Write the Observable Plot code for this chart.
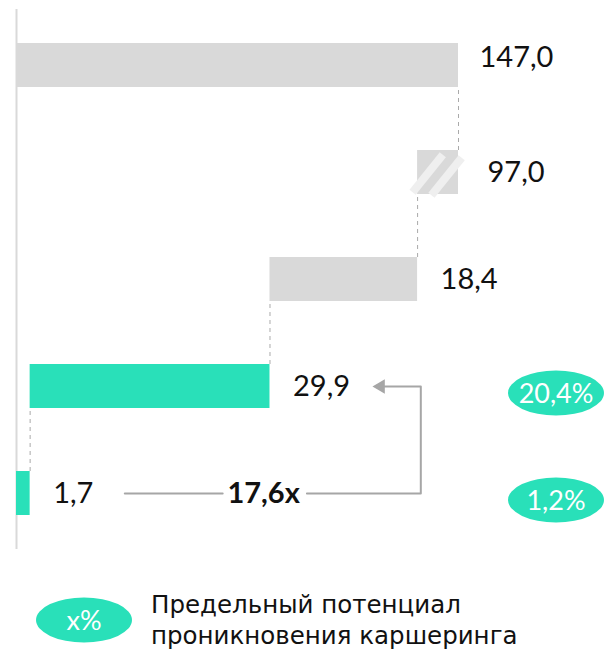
<!DOCTYPE html>
<html><head><meta charset="utf-8">
<script src="https://cdn.jsdelivr.net/npm/d3@7"></script>
<script src="https://cdn.jsdelivr.net/npm/@observablehq/plot@0.6"></script>
<style>
body{margin:0;background:#fff;font-family:Lato,"Noto Sans",sans-serif;}
#chart{width:604px;height:560px;}
.legend{position:relative;height:90px;width:604px;}
.legend .txt{position:absolute;left:151px;top:29px;font-family:"DejaVu Sans",sans-serif;font-size:24.5px;line-height:31px;color:#111;white-space:nowrap;}
</style></head><body>
<div id="chart"></div>
<div class="legend" id="legend"></div>
<script>
// ---- data ----
const ids = ["total", "break", "rest", "potential", "current"];
const values = [147.0, 97.0, 18.4, 29.9, 1.7];
const kinds = ["gray", "gray", "gray", "teal", "teal"];
const penetration = [null, null, null, 20.4, 1.2];
const multiplier = 17.6;
const legendPill = "x%";
const legendLines = ["Предельный потенциал", "проникновения каршеринга"];

// ---- layout parameters (not data) ----
const breakShown = 5.1;           // compressed width of the axis-break bar, in units
const teal = "#29e0b9", gray = "#d9d9d9", lineGray = "#a6a6a6", ink = "#111";
const fmt = v => d3.format(".1f")(v).replace(".", ",");

const rows = ids.map((id, i) => ({id, value: values[i], kind: kinds[i], pen: penetration[i]}));
let acc = 0;
for (let i = rows.length - 1; i >= 1; i--) {
  const w = i === 1 ? breakShown : rows[i].value;
  rows[i].x1 = acc; rows[i].x2 = acc + w; acc += w;
}
rows[0].x1 = 0; rows[0].x2 = acc;
const base = rows[2].x2;

const connectors = rows.slice(0, -1).map((r, i) => ({x: rows[i + 1].x2, y1: rows[i + 1].id, y2: r.id}));

// annotation anchors (units on x scale)
const arrowX = base + 0.4;
const leftLine = [{x: 13.5, y: ids[4]}, {x: 25.7, y: ids[4]}];
const arrowPath = [{x: 36.2, y: ids[4]}, {x: arrowX, y: ids[4]}, {x: arrowX, y: ids[3]}, {x: 45.4, y: ids[3]}];
const multLabel = [{x: 30.8, y: ids[4], t: fmt(multiplier) + "x"}];

function breakMarks(index, scales, vals, dims) {
  const g = d3.create("svg:g");
  const r = rows[1];
  const bw = scales.y.bandwidth ? scales.y.bandwidth() : 0;
  const px1 = scales.x(r.x1), px2 = scales.x(r.x2), cy = scales.y(r.id) + bw / 2;
  [[0.26, 1.5], [0.72, 4.5]].forEach(([f, oy]) => {
    const cx = px1 + (px2 - px1) * f;
    g.append("rect").attr("x", -4).attr("y", -24).attr("width", 8).attr("height", 48)
      .attr("fill", "#efefef")
      .attr("transform", `translate(${cx},${cy + oy}) rotate(39)`);
  });
  return g.node();
}

function pills(index, scales, vals, dims) {
  const g = d3.create("svg:g");
  const bw = scales.y.bandwidth ? scales.y.bandwidth() : 0;
  rows.filter(r => r.pen != null).forEach(r => {
    const cx = dims.width - 48, cy = scales.y(r.id) + bw / 2 + 7;
    g.append("ellipse").attr("cx", cx).attr("cy", cy).attr("rx", 48).attr("ry", 22.5).attr("fill", teal);
    g.append("text").attr("x", cx).attr("y", cy).attr("dy", "0.36em").attr("text-anchor", "middle")
      .attr("fill", "#fff").attr("font-size", 27).attr("font-weight", 400).text(fmt(r.pen) + "%");
  });
  return g.node();
}

const chart = Plot.plot({
  width: 604, height: 560,
  marginTop: 9, marginBottom: 11, marginLeft: 16, marginRight: 0,
  style: {fontFamily: "Lato, 'Noto Sans', sans-serif", background: "#fff"},
  x: {domain: [0, 73.3], axis: null},
  y: {type: "band", domain: ids, paddingInner: 0.593, paddingOuter: 0.3, axis: null},
  marks: [
    Plot.ruleX([0], {stroke: gray, strokeWidth: 2}),
    Plot.ruleX(connectors, {x: "x", y1: "y1", y2: "y2", stroke: "#aaa", strokeWidth: 1, strokeDasharray: "4,4"}),
    Plot.barX(rows, {x1: "x1", x2: "x2", y: "id", fill: d => d.kind === "teal" ? teal : gray}),
    breakMarks,
    Plot.text([rows[0]], {x: "x2", y: "id", text: d => fmt(d.value), textAnchor: "start", dx: 21, dy: -8, fontSize: 29, fill: ink}),
    Plot.text([rows[1]], {x: "x2", y: "id", text: d => fmt(d.value), textAnchor: "start", dx: 29, fontSize: 29, fill: ink}),
    Plot.text(rows.slice(2), {x: "x2", y: "id", text: d => fmt(d.value), textAnchor: "start", dx: 23, fontSize: 29, fill: ink}),
    Plot.line(leftLine, {x: "x", y: "y", stroke: lineGray, strokeWidth: 2}),
    Plot.line(arrowPath, {x: "x", y: "y", stroke: lineGray, strokeWidth: 2}),
    Plot.dot([arrowPath[3]], {x: "x", y: "y", symbol: "triangle", r: 5.3, fill: lineGray, stroke: "none", rotate: -90}),
    Plot.text(multLabel, {x: "x", y: "y", text: "t", fontSize: 29, fontWeight: 700, fill: ink}),
    pills
  ]
});
document.getElementById("chart").append(chart);

// legend
const lg = d3.select("#legend");
const ls = lg.append("svg").attr("width", 140).attr("height", 90).style("position", "absolute").style("left", 0).style("top", 0);
ls.append("ellipse").attr("cx", 84).attr("cy", 60).attr("rx", 48).attr("ry", 22.5).attr("fill", teal);
ls.append("text").attr("x", 84).attr("y", 60).attr("dy", "0.36em").attr("text-anchor", "middle")
  .attr("fill", "#fff").attr("font-size", 27).attr("font-weight", 400).attr("font-family", "Lato, 'Noto Sans', sans-serif").text(legendPill);
lg.append("div").attr("class", "txt").html(legendLines.join("<br>"));
</script>
</body></html>
